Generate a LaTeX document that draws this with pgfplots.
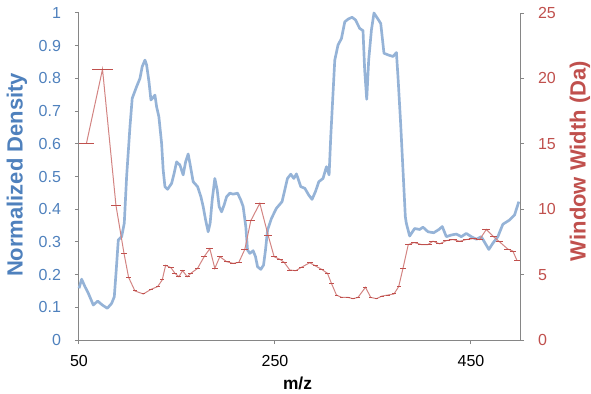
\documentclass[border=0pt]{standalone}
\usepackage{pgfplots}
\usepackage{pgfplotstable}
\pgfplotsset{compat=1.18}
\usepackage{fontspec}
\setmainfont{Liberation Sans}
\definecolor{dblue}{HTML}{4F81BD}
\definecolor{lblue}{HTML}{95B3D7}
\definecolor{dred}{HTML}{C0504D}
\definecolor{agray}{HTML}{868686}

\pgfplotstableread{
x v
50 0.158
52.7 0.186
56.1 0.163
59.5 0.143
64.6 0.107
69.1 0.119
73.8 0.107
78.9 0.097
83.3 0.112
86 0.132
88 0.214
90.1 0.306
93.5 0.316
96.2 0.357
98.6 0.5
102 0.652
104.3 0.739
108.8 0.775
112.2 0.8
114.5 0.836
117.3 0.856
119 0.841
121.4 0.79
123.4 0.734
125.7 0.742
127.5 0.749
129.2 0.713
131.5 0.683
134.3 0.601
135.9 0.52
137.7 0.469
140.4 0.461
144.5 0.479
147.1 0.51
149.6 0.545
153 0.535
156.3 0.505
158.8 0.545
161.4 0.569
163.2 0.54
166.5 0.484
171 0.469
174.4 0.438
176.7 0.408
179.2 0.367
181.8 0.331
183.8 0.357
185.9 0.428
188.6 0.494
191 0.459
193 0.408
195.5 0.392
198.1 0.413
200.6 0.438
203.9 0.449
207.3 0.446
211.8 0.449
215.1 0.428
217.5 0.408
220.2 0.347
222 0.275
224.3 0.265
227.7 0.273
230.1 0.255
232.2 0.224
235.5 0.216
238.3 0.229
240.3 0.275
242.4 0.336
246.4 0.372
251.5 0.403
257.2 0.423
260 0.459
262.7 0.494
266.1 0.507
269.2 0.494
271.9 0.508
276.3 0.469
280.4 0.464
284.5 0.443
287.8 0.43
291.3 0.454
294.7 0.484
299 0.494
302.5 0.53
305.2 0.505
306.9 0.622
309.2 0.754
311 0.856
314.3 0.902
317.8 0.922
321.2 0.973
324.5 0.981
328.6 0.987
332.1 0.979
336.4 0.953
339.8 0.946
341.5 0.826
343.6 0.736
345.6 0.856
348.4 0.948
351 1.0
354.5 0.984
357.9 0.968
361.2 0.877
365.3 0.872
370.4 0.867
373.9 0.879
375.5 0.805
378.2 0.663
380.6 0.52
383 0.377
384 0.357
387.4 0.318
392.5 0.341
397.6 0.338
401 0.345
406.1 0.331
411.9 0.328
417.3 0.338
420.7 0.347
424.8 0.316
429.9 0.321
435 0.324
440.1 0.316
445.2 0.326
450.3 0.316
455.4 0.308
460.5 0.316
468.2 0.277
472.3 0.296
477.4 0.316
482.5 0.354
489.4 0.367
494.4 0.382
498.8 0.423
}\density

\pgfplotstableread{
x w
57.5 15
74 20.7
87.7 10.3
95.9 6.63
100.6 4.79
107.1 3.75
115.6 3.52
123.4 3.87
130.2 4.08
134.9 4.59
138.4 5.71
143.8 5.53
147.9 5.10
151.9 4.84
155.7 5.30
160.4 4.84
164.2 5.10
171 5.48
177.7 6.37
183.5 6.98
188.6 5.48
193.7 6.37
200.6 5.99
207.3 5.86
213.1 5.94
219.2 6.93
225.3 9.12
234.5 10.45
243 8.0
249.1 6.37
254.9 6.17
259.3 5.94
265.1 5.35
271.2 5.30
277 5.56
285.5 5.91
291.3 5.66
297.4 5.41
303.5 5.10
307.6 4.33
312.7 3.44
317.8 3.26
324.5 3.26
329.6 3.16
334.7 3.26
342.3 4.03
347.7 3.26
353.5 3.16
359.2 3.36
365.3 3.44
371.4 3.52
376.2 4.08
380.6 5.48
386 7.3
392 7.45
399.3 7.3
406.1 7.3
411.2 7.55
418 7.35
424.8 7.6
431.6 7.68
438.4 7.55
445.2 7.68
452 7.75
458.8 7.68
465.6 8.45
473 7.9
479.2 7.5
487.6 6.95
492.7 6.8
496.8 6.1
}\window

\begin{document}
\begin{tikzpicture}
\pgfplotsset{
  common/.style={
    scale only axis, width=330.75pt, height=245.25pt,
    xmin=50, xmax=500,
    tick align=outside, major tick length=3pt,
    axis line style={-, draw=agray, line width=0.75pt},
    every tick/.style={draw=agray, line width=0.75pt},
    /pgf/number format/assume math mode=true,
    clip=false,
  }
}
\begin{axis}[common,
  ymin=0, ymax=1,
  axis x line*=bottom, axis y line*=left,
  xtick={50,250,450},
  ytick={0,0.1,0.2,0.3,0.4,0.5,0.6,0.7,0.8,0.9,1},
  yticklabel style={color=dblue, font=\fontsize{12}{14}\selectfont, /pgf/number format/fixed, /pgf/number format/precision=1, xshift=-7pt},
  xticklabel style={color=black, font=\fontsize{12}{14}\selectfont, yshift=-5pt},
  xlabel={m/z},
  xlabel style={font=\fontsize{13}{15}\selectfont\bfseries, at={(axis description cs:0.4955,-0.1315)}, anchor=center},
  ylabel={Normalized Density},
  ylabel style={font=\fontsize{16.5}{19}\selectfont\bfseries, color=dblue, at={(axis description cs:-0.1406,0.505)}, anchor=center},
]
\addplot[color=lblue, line width=2pt, mark=none, line join=round] table[x=x,y=v] {\density};
\end{axis}
\begin{axis}[common,
  ymin=0, ymax=25,
  axis x line=none, axis y line*=right,
  ytick={0,5,10,15,20,25},
  yticklabel style={color=dred, font=\fontsize{12}{14}\selectfont, xshift=7pt},
  ylabel={Window Width (Da)},
  ylabel style={font=\fontsize{16.5}{19}\selectfont\bfseries, color=dred, at={(axis description cs:1.136,0.547)}, anchor=center},
]
\addplot[color=dred!70!white, line width=0.75pt, mark=none,
  error bars/.cd, x dir=both, x explicit,
  error bar style={color=dred, line width=0.75pt},
  error mark options={opacity=0}]
  table[x=x, y=w, x error expr=\thisrow{w}/2] {\window};
\end{axis}
\pgfresetboundingbox
\path[use as bounding box] (-59.25pt,-39.75pt) rectangle (384pt,255pt);
\end{tikzpicture}
\end{document}
